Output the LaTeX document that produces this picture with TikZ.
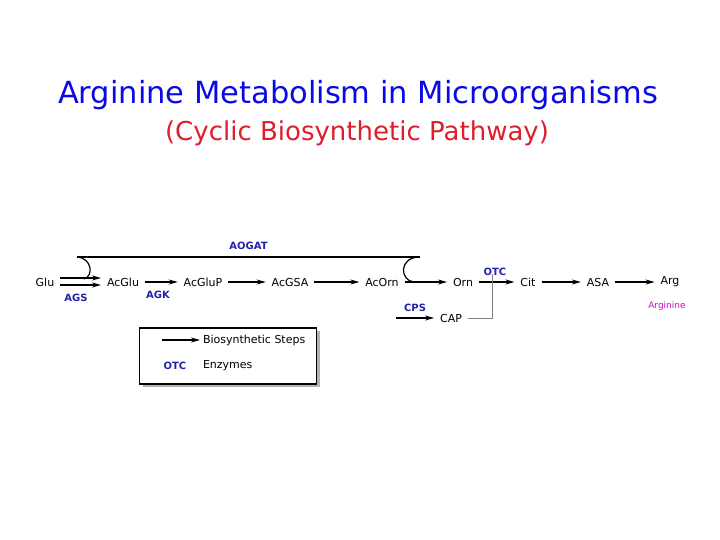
\documentclass[tikz,border=0pt]{standalone}
\usepackage{fontspec}
\setmainfont{DejaVu Sans}
\usetikzlibrary{arrows.meta,shadows}

\definecolor{titleblue}{RGB}{10,10,230}
\definecolor{titlered}{RGB}{220,30,45}
\definecolor{enzblue}{RGB}{35,35,170}
\definecolor{argpink}{RGB}{215,0,215}

\tikzset{
  met/.style={inner sep=0pt, outer sep=6pt, font=\fontsize{11}{13}\selectfont},
  enz/.style={text=enzblue, font=\fontsize{10}{12}\selectfont\bfseries}
}

\begin{document}
\begin{tikzpicture}[>={Stealth[length=9pt,width=5pt]}, x=1pt, y=-1pt, line width=1.2pt]
    \useasboundingbox (0,0) rectangle (720,540);

    % Title and subtitle
    \node (title) at (358,95) [text=titleblue, font=\fontsize{30.5}{34}\selectfont] {Arginine Metabolism in Microorganisms};
    \node (subtitle) at (357,133) [text=titlered, font=\fontsize{26}{30}\selectfont] {(Cyclic Biosynthetic Pathway)};

    % Metabolites along the pathway
    \node[met] (glu) at (45,282) {Glu};
    \node[met] (acglu) at (123,282) {AcGlu};
    \node[met] (acglup) at (203,282) {AcGluP};
    \node[met] (acgsa) at (290,282) {AcGSA};
    \node[met] (acorn) at (382,282) {AcOrn};
    \node[met] (orn) at (463,282) {Orn};
    \node[met] (cit) at (528,282) {Cit};
    \node[met] (asa) at (598,282) {ASA};
    \node[met] (arg) at (670,282) {Arg};
    \node[met] (cap) at (451,318) {CAP};

    % Double arrow Glu -> AcGlu
    \draw [->] ([yshift=-3pt]glu.east) -- ([yshift=-3pt]acglu.west);
    \draw [->] ([yshift=4pt]glu.east) -- ([yshift=4pt]acglu.west);

    % Main biosynthetic steps
    \draw [->] (acglu) -- (acglup);
    \draw [->] (acglup) -- (acgsa);
    \draw [->] (acgsa) -- (acorn);
    \draw [->] (acorn) -- (orn);
    \draw [->] (orn) -- (cit);
    \draw [->] (cit) -- (asa);
    \draw [->] (asa) -- (arg);

    % Acetyl recycling by AOGAT
    \coordinate (aogatL) at (77,257);
    \coordinate (aogatR) at (420,257);
    \draw (aogatL) -- (aogatR) node[midway, above=3pt, enz] {AOGAT};
    \draw (aogatL) .. controls (92,258) and (94,276) .. (84,279);
    \draw (aogatR) .. controls (398,257) and (400,281) .. (414,282);

    % Carbamoyl phosphate feeding OTC step
    \coordinate (cpsin) at (396,318);
    \coordinate (capjoin) at (492,274);
    \draw [->] (cpsin) -- (cap.west) node[midway, above=2pt, enz] {CPS};
    \draw [gray, line width=1pt] (cap.east) -| (capjoin);

    % Enzyme labels
    \node[enz] (ags) at (76,298) {AGS};
    \node[enz] (agk) at (158,295) {AGK};
    \node[enz] (otc) at (495,272) {OTC};
    \node (arginine) at (667,306) [text=argpink, font=\fontsize{9}{11}\selectfont] {Arginine};

    % Legend
    \node (legend) at (228,356) [draw, fill=white, drop shadow={shadow xshift=3pt, shadow yshift=-3pt, fill=black!60}, minimum width=177pt, minimum height=56pt] {};
    \coordinate (legA) at (162,340);
    \node[met, anchor=west, outer sep=0pt] (steps) at (203,340) {Biosynthetic Steps};
    \draw [->] (legA) -- ([xshift=-3pt]steps.west);
    \node[enz] (legotc) at (175,366) {OTC};
    \node[met, anchor=west, outer sep=0pt] (enzymes) at (203,366) {Enzymes};
\end{tikzpicture}
\end{document}
